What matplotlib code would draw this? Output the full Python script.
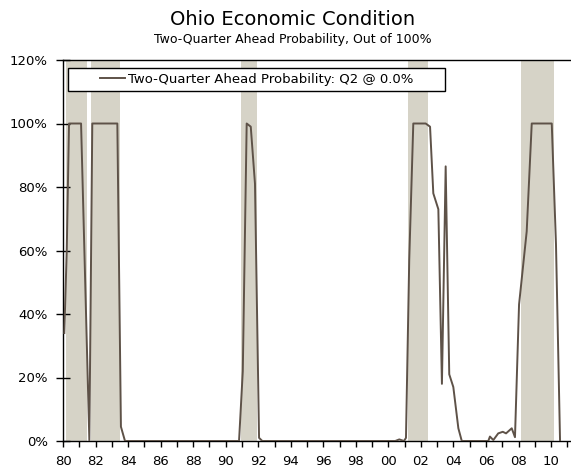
import matplotlib.pyplot as plt
from matplotlib.patches import Rectangle
from matplotlib.lines import Line2D
from matplotlib.ticker import MultipleLocator, FuncFormatter

# Datas (ano fracionado) e probabilidade (%)
dates = [1980.08, 1980.23, 1980.37, 1981.11, 1981.62, 1981.80, 1983.34, 1983.56, 1983.81,
         1990.82, 1991.05, 1991.29, 1991.54, 1991.80, 1992.05, 1992.25,
         2000.42, 2000.67, 2000.96, 2001.08, 2001.28, 2001.53, 2002.29, 2002.56, 2002.76, 2003.07,
         2003.29, 2003.52, 2003.74, 2003.99, 2004.30, 2004.51,
         2006.14, 2006.24, 2006.45, 2006.75, 2007.03, 2007.23, 2007.58, 2007.78,
         2008.03, 2008.50, 2008.81, 2010.04, 2010.30, 2010.55]
prob = [34, 60, 100, 100, 0, 100, 100, 4.5, 0,
        0, 22, 100, 99, 81, 1, 0,
        0, 0.5, 0, 1, 57, 100, 100, 99, 78, 73,
        18, 86.5, 21, 17, 4, 0,
        0, 1.4, 0.3, 2.4, 2.9, 2.4, 4, 1.2,
        43, 66, 100, 100, 62, 0]

# Recessoes (inicio, fim)
rec_start = [1980.17, 1981.70, 1990.94, 2001.20, 2008.17]
rec_end = [1981.46, 1983.50, 1991.91, 2002.41, 2010.16]

legend_label = 'Two-Quarter Ahead Probability: Q2 @ 0.0%'
line_color = '#5e5248'
band_color = '#d6d3c7'

fig = plt.figure(figsize=(5.71, 4.75), dpi=100)
ax = fig.add_axes([63 / 571, 1 - 441 / 475, 508 / 571, 381 / 475])

for s, e in zip(rec_start, rec_end):
    ax.axvspan(s, e, color=band_color, lw=0, zorder=0)

ax.plot(dates, prob, color=line_color, lw=1.4, zorder=3)

ax.set_xlim(1980, 1980 + 508 / 16.27)
ax.set_ylim(0, 120)

ax.xaxis.set_major_locator(MultipleLocator(2))
ax.xaxis.set_minor_locator(MultipleLocator(1))
ax.xaxis.set_major_formatter(FuncFormatter(lambda v, p: f'{int(round(v)) % 100:02d}'))
ax.yaxis.set_major_locator(MultipleLocator(20))
ax.yaxis.set_major_formatter(FuncFormatter(lambda v, p: f'{int(round(v))}%'))

ax.tick_params(axis='x', which='both', direction='out', length=4, width=1, labelsize=9.5, pad=6)
ax.tick_params(axis='y', direction='inout', length=10, width=1, labelsize=9.5, pad=6)

ax.spines['right'].set_visible(False)
for sp in ['left', 'bottom', 'top']:
    ax.spines[sp].set_color('black')
    ax.spines[sp].set_linewidth(1)

# Caixa da legenda
ax.add_patch(Rectangle((0.0098, 0.919), 0.742, 0.061, transform=ax.transAxes,
                       facecolor='white', edgecolor='black', lw=1, zorder=4))
handle = Line2D([], [], color=line_color, lw=1.4)
ax.legend([handle], [legend_label], loc='center', bbox_to_anchor=(0.381, 0.9495),
          frameon=False, fontsize=9.5, handlelength=1.9, handletextpad=0.2,
          borderpad=0).set_zorder(5)

fig.text(0.513, 0.958, 'Ohio Economic Condition', ha='center', va='center', fontsize=14)
fig.text(0.513, 0.916, 'Two-Quarter Ahead Probability, Out of 100%', ha='center',
         va='center', fontsize=9)

fig.savefig('out.png', dpi=100)
